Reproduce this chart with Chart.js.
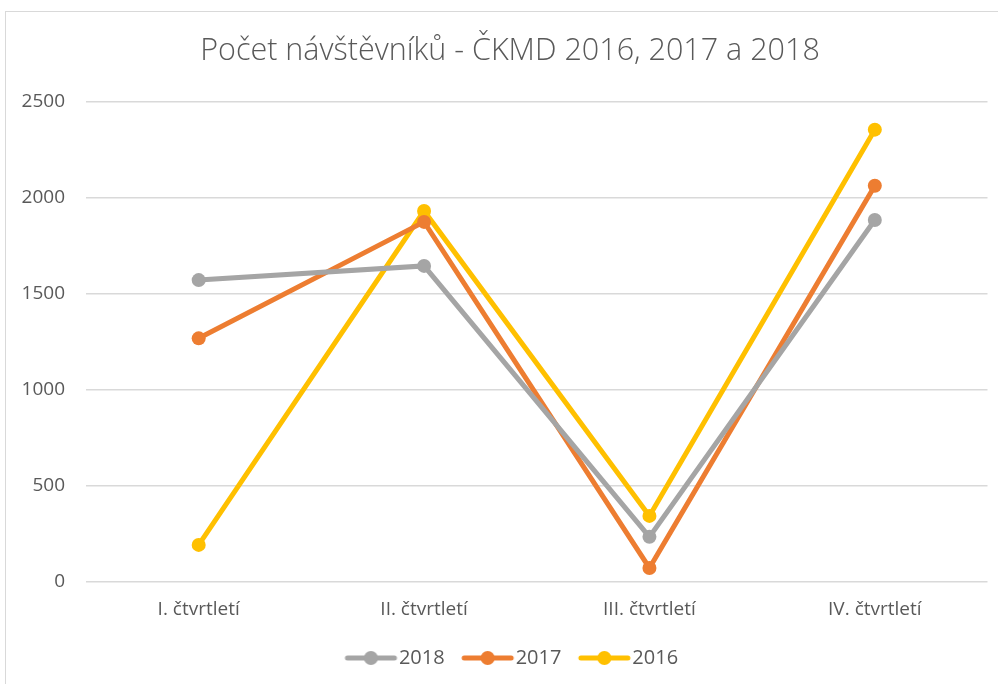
<!DOCTYPE html>
<html>
<head>
<meta charset="utf-8">
<script src="https://cdn.jsdelivr.net/npm/chart.js@4.4.1/dist/chart.umd.min.js"></script>
<style>
  html, body { margin: 0; padding: 0; background: #fff; }
  #wrap { position: relative; width: 998px; height: 684px; overflow: hidden; }
  #frame { position: absolute; left: 5px; top: 11px; width: 1100px; height: 800px; border: 1px solid #d9d9d9; box-sizing: border-box; }
  canvas { position: absolute; left: 0; top: 0; }
</style>
</head>
<body>
<div id="wrap">
  <div id="frame"></div>
  <canvas id="chart" width="1020" height="684"></canvas>
</div>
<script>
const categories = ["I. čtvrtletí", "II. čtvrtletí", "III. čtvrtletí", "IV. čtvrtletí"];
const visitors2018 = [1571, 1645, 235, 1884];
const visitors2017 = [1268, 1874, 73, 2062];
const visitors2016 = [193, 1931, 344, 2354];
const yTicks = [0, 500, 1000, 1500, 2000, 2500];

const textColor = "#595959";
const fontName = "'Open Sans', 'Noto Sans', sans-serif";

// legend marker: line with a dot in the middle, like Excel
function legendMarker(color) {
	const c = document.createElement("canvas");
	c.width = 68;
	c.height = 16;
	const ctx = c.getContext("2d");
	ctx.strokeStyle = color;
	ctx.lineWidth = 5;
	ctx.lineCap = "round";
	ctx.beginPath();
	ctx.moveTo(16, 8);
	ctx.lineTo(63, 8);
	ctx.stroke();
	ctx.fillStyle = color;
	ctx.beginPath();
	ctx.arc(39.5, 8, 7, 0, Math.PI * 2);
	ctx.fill();
	return c;
}

function series(label, data, color) {
	return {
		label: label,
		data: data,
		borderColor: color,
		backgroundColor: color,
		borderWidth: 5,
		pointRadius: 7,
		pointHoverRadius: 7,
		pointBorderWidth: 0,
		tension: 0,
		marker: legendMarker(color),
	};
}

new Chart(document.getElementById("chart"), {
	type: "line",
	data: {
		labels: categories,
		datasets: [
			series("2018", visitors2018, "#a5a5a5"),
			series("2017", visitors2017, "#ed7d31"),
			series("2016", visitors2016, "#ffc000"),
		],
	},
	options: {
		responsive: false,
		animation: false,
		layout: { padding: { left: 0, right: 0, top: 0, bottom: 6 } },
		plugins: {
			title: {
				display: true,
				text: "Počet návštěvníků - ČKMD 2016, 2017 a 2018",
				color: textColor,
				font: { family: fontName, size: 30.5, weight: "300" },
				padding: { top: 33, bottom: 32 },
			},
			legend: {
				position: "bottom",
				labels: {
					color: textColor,
					font: { family: fontName, size: 20 },
					usePointStyle: true,
					pointStyleWidth: 47,
					padding: 14,
					generateLabels: (chart) =>
						chart.data.datasets.map((ds, i) => ({
							text: ds.label,
							fillStyle: ds.borderColor,
							strokeStyle: ds.borderColor,
							pointStyle: ds.marker,
							lineWidth: 0,
							datasetIndex: i,
							fontColor: textColor,
						})),
				},
			},
			tooltip: { enabled: false },
		},
		scales: {
			x: {
				offset: true,
				grid: { display: false, drawTicks: false },
				border: { display: false },
				ticks: { color: textColor, font: { family: fontName, size: 19 }, padding: 16 },
				afterFit: (scale) => { scale.height = 52; },
			},
			y: {
				min: 0,
				max: 2500,
				afterBuildTicks: (scale) => { scale.ticks = yTicks.map((v) => ({ value: v })); },
				grid: { color: "#d9d9d9", lineWidth: 1.5, drawTicks: false },
				border: { display: false },
				ticks: {
					color: textColor,
					font: { family: fontName, size: 19 },
					padding: 21,
					callback: (v) => String(v),
				},
				afterFit: (scale) => { scale.width = 86; },
			},
			// empty right margin so the title and legend centre like the original
			spacer: {
				position: "right",
				min: 0,
				max: 2500,
				grid: { display: false, drawTicks: false },
				border: { display: false },
				ticks: { display: false },
				afterFit: (scale) => { scale.width = 32.5; },
			},
		},
	},
});
</script>
</body>
</html>
